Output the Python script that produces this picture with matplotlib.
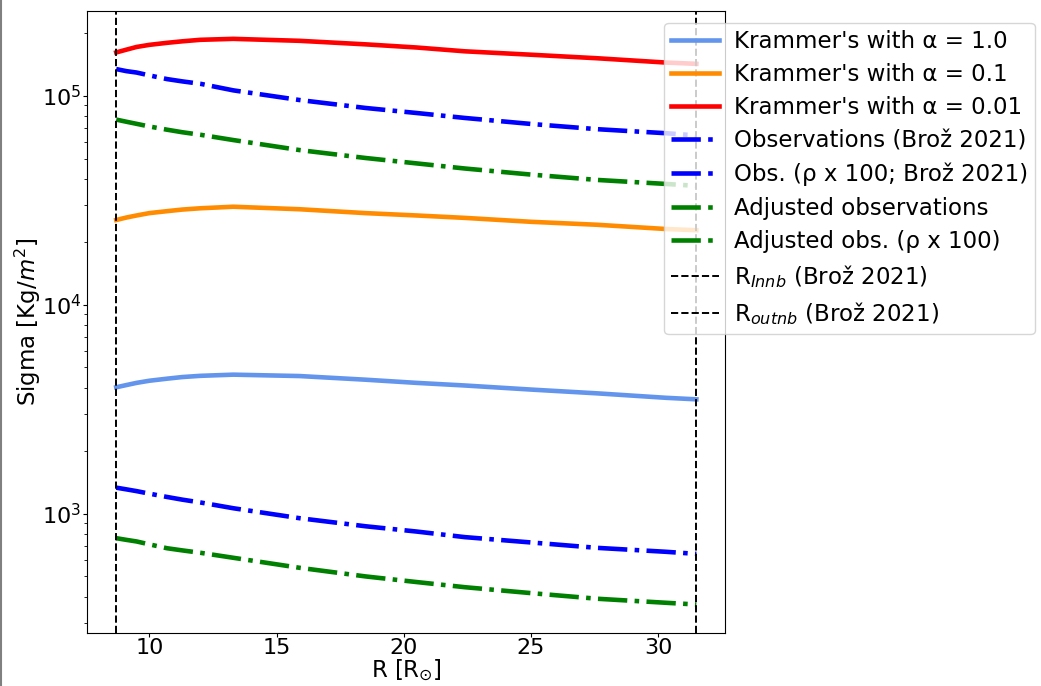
import numpy as np
import matplotlib
matplotlib.use('Agg')
import matplotlib.pyplot as plt
from matplotlib.lines import Line2D

# radius grid [R_sun]
R = [8.7, 9.1, 9.5, 10.0, 10.7, 11.3, 12.0, 13.3, 15.9, 18.5, 20.5, 22.4, 25.0, 27.6, 30.3, 31.5]

# Krammer's opacity models
sig_a1 = [4.02e3, 4.12e3, 4.22e3, 4.32e3, 4.42e3, 4.50e3, 4.56e3, 4.62e3, 4.55e3, 4.37e3,
          4.22e3, 4.10e3, 3.92e3, 3.76e3, 3.58e3, 3.52e3]
sig_a01 = [2.54e4, 2.61e4, 2.67e4, 2.74e4, 2.80e4, 2.85e4, 2.89e4, 2.94e4, 2.86e4, 2.74e4,
           2.67e4, 2.60e4, 2.49e4, 2.41e4, 2.30e4, 2.27e4]
sig_a001 = [1.61e5, 1.66e5, 1.71e5, 1.75e5, 1.79e5, 1.82e5, 1.85e5, 1.87e5, 1.83e5, 1.76e5,
            1.70e5, 1.63e5, 1.57e5, 1.51e5, 1.44e5, 1.42e5]

# observations
obs = [1330, 1305, 1280, 1245, 1200, 1165, 1130, 1060, 950, 869, 820, 771, 727, 685, 656, 641]
obs_100 = [1.34e5, 1.31e5, 1.29e5, 1.25e5, 1.20e5, 1.17e5, 1.14e5, 1.06e5, 9.53e4, 8.73e4,
           8.26e4, 7.82e4, 7.32e4, 6.91e4, 6.61e4, 6.45e4]
adj = [762, 748, 735, 712, 682, 666, 649, 614, 550, 500, 470, 444, 416, 391, 374, 367]
adj_100 = [7.68e4, 7.50e4, 7.33e4, 7.12e4, 6.87e4, 6.68e4, 6.50e4, 6.13e4, 5.49e4, 5.03e4,
           4.74e4, 4.48e4, 4.19e4, 3.95e4, 3.78e4, 3.70e4]

R_in = 8.7
R_out = 31.5

plt.rcParams['font.size'] = 16.5

fig = plt.figure(figsize=(10.41, 6.86), dpi=100)
ax = fig.add_axes([0.0838, 0.0776, 0.613, 0.907])

lw = 3.3
ax.plot(R, sig_a1, color='cornflowerblue', lw=lw, label="Krammer's with α = 1.0")
ax.plot(R, sig_a01, color='darkorange', lw=lw, label="Krammer's with α = 0.1")
ax.plot(R, sig_a001, color='red', lw=lw, label="Krammer's with α = 0.01")
ax.plot(R, obs, color='blue', lw=lw, ls='-.', label='Observations (Brož 2021)')
ax.plot(R, obs_100, color='blue', lw=lw, ls='-.', label='Obs. (ρ x 100; Brož 2021)')
ax.plot(R, adj, color='green', lw=lw, ls='-.', label='Adjusted observations')
ax.plot(R, adj_100, color='green', lw=lw, ls='-.', label='Adjusted obs. (ρ x 100)')
ax.axvline(R_in, color='black', ls='--', lw=1.4, label=r'R$_{Innb}$ (Brož 2021)')
ax.axvline(R_out, color='black', ls='--', lw=1.4, label=r'R$_{outnb}$ (Brož 2021)')

ax.set_yscale('log')
ax.tick_params(which='major', length=3, pad=1.5, labelsize=16)
ax.tick_params(axis='x', pad=0.5)
ax.tick_params(which='minor', length=2)
ax.set_xlabel(r'R [R$_{\odot}$]', labelpad=0)
ax.set_ylabel(r'Sigma [Kg/$m^2$]', labelpad=-1)
ax.legend(loc='upper left', bbox_to_anchor=(664/1041, 1-22.7/686),
          bbox_transform=fig.transFigure, borderaxespad=0, handlelength=2.1,
          handletextpad=0.65, labelspacing=0.45, borderpad=0.3)

fig.add_artist(Line2D([0.001, 0.001], [0, 1], color='gray', lw=1.5))

plt.savefig('out.png', dpi=100)
